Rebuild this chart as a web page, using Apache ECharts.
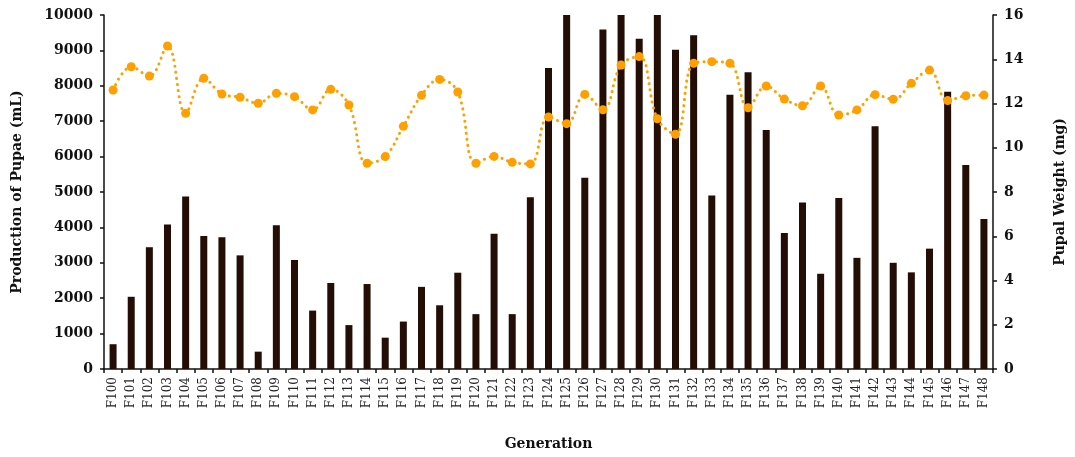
<!DOCTYPE html>
<html>
<head>
<meta charset="utf-8">
<script src="https://cdn.jsdelivr.net/npm/echarts@6/dist/echarts.min.js"></script>
<style>
html,body{margin:0;padding:0;background:#fff;}
#chart{width:1075px;height:457px;}
</style>
</head>
<body>
<div id="chart"></div>
<script>
const generations = ['F100','F101','F102','F103','F104','F105','F106','F107','F108','F109','F110','F111','F112','F113','F114','F115','F116','F117','F118','F119','F120','F121','F122','F123','F124','F125','F126','F127','F128','F129','F130','F131','F132','F133','F134','F135','F136','F137','F138','F139','F140','F141','F142','F143','F144','F145','F146','F147','F148'];
const pupaeProduction = [700,2040,3440,4080,4870,3760,3720,3210,490,4060,3080,1650,2430,1240,2400,885,1340,2320,1800,2720,1550,3820,1550,4850,8500,10000,5400,9590,10000,9330,10000,9020,9430,4900,7750,8380,6750,3840,4700,2690,4830,3140,6860,3000,2730,3400,7830,5760,4240];
const pupalWeight = [12.61,13.66,13.24,14.60,11.56,13.14,12.43,12.28,12.01,12.46,12.31,11.71,12.64,11.93,9.30,9.60,10.97,12.37,13.09,12.52,9.30,9.61,9.34,9.27,11.39,11.09,12.41,11.72,13.74,14.12,11.31,10.61,13.82,13.89,13.82,11.81,12.79,12.20,11.90,12.79,11.48,11.71,12.40,12.19,12.91,13.51,12.13,12.35,12.38];
const leftTicks = {min:0, max:10000, interval:1000};
const rightTicks = {min:0, max:16, interval:2};

const serif = '"DejaVu Serif", "Liberation Serif", serif';
const chart = echarts.init(document.getElementById('chart'), null, {renderer:'canvas'});
chart.setOption({
  backgroundColor:'#ffffff',
  animation:false,
  grid:{left:104, right:79, top:15, bottom:88, containLabel:false},
  xAxis:{
    type:'category',
    data:generations,
    name:'Generation',
    nameLocation:'middle',
    nameGap:68,
    nameTextStyle:{fontFamily:serif, fontWeight:'bold', fontSize:14, color:'#111'},
    axisLine:{lineStyle:{color:'#111', width:1.5}},
    axisTick:{show:true, alignWithLabel:false, length:4, lineStyle:{color:'#111', width:1.5}},
    axisLabel:{rotate:90, interval:0, fontFamily:serif, fontSize:12, color:'#222', margin:8}
  },
  yAxis:[
    {
      type:'value', min:leftTicks.min, max:leftTicks.max, interval:leftTicks.interval,
      name:'Production of Pupae (mL)',
      nameLocation:'middle', nameGap:80, nameRotate:90,
      nameTextStyle:{fontFamily:serif, fontWeight:'bold', fontSize:14, color:'#111'},
      axisLine:{show:true, lineStyle:{color:'#111', width:1.5}},
      axisTick:{show:true, length:4, lineStyle:{color:'#111', width:1.5}},
      splitLine:{show:false},
      axisLabel:{fontFamily:serif, fontWeight:'bold', fontSize:14, color:'#111', margin:11,
        formatter:function(v){return String(v);}}
    },
    {
      type:'value', min:rightTicks.min, max:rightTicks.max, interval:rightTicks.interval,
      position:'right',
      name:'Pupal Weight (mg)',
      nameLocation:'middle', nameGap:60, nameRotate:90,
      nameTextStyle:{fontFamily:serif, fontWeight:'bold', fontSize:14, color:'#111'},
      axisLine:{show:true, lineStyle:{color:'#111', width:1.5}},
      axisTick:{show:true, length:4, lineStyle:{color:'#111', width:1.5}},
      splitLine:{show:false},
      axisLabel:{fontFamily:serif, fontWeight:'bold', fontSize:14, color:'#111', margin:11}
    }
  ],
  series:[
    {
      type:'bar', name:'Production of Pupae', data:pupaeProduction, yAxisIndex:0,
      barWidth:7,
      itemStyle:{color:'#230d05'}
    },
    {
      type:'line', name:'Pupal Weight', data:pupalWeight, yAxisIndex:1,
      smooth:0.4,
      symbol:'circle', symbolSize:9,
      itemStyle:{color:'#ffa000'},
      lineStyle:{color:'#ffa000', width:3, type:[0.1,6], cap:'round'},
      z:5
    }
  ]
});
</script>
</body>
</html>
